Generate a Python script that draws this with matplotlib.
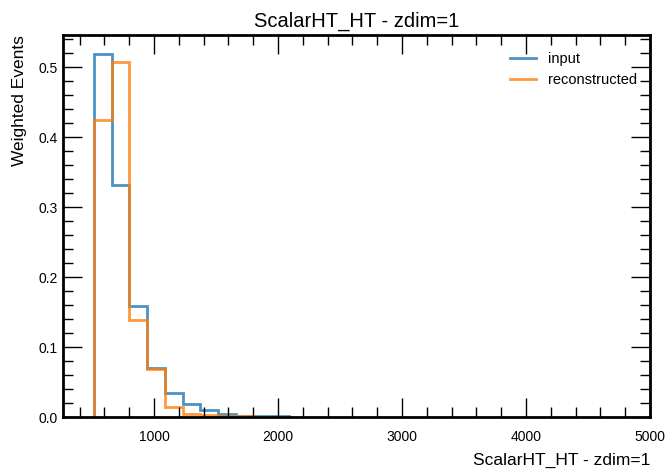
import matplotlib
matplotlib.use("Agg")
import matplotlib.pyplot as plt
import numpy as np
from matplotlib.ticker import MultipleLocator

# bin edges and per-bin weighted events
bin_edges = [516, 659, 802, 945, 1088, 1231, 1374, 1517, 1660, 1803, 1946, 2089]
input_vals = [0.519, 0.331, 0.158, 0.070, 0.035, 0.019, 0.010, 0.005, 0.002, 0.002, 0.002]
recon_vals = [0.424, 0.507, 0.139, 0.068, 0.015, 0.005, 0.003, 0.002, 0.001, 0.0, 0.0]
labels = ["input", "reconstructed"]
title = "ScalarHT_HT - zdim=1"

plt.rcParams["font.family"] = ["Liberation Sans", "DejaVu Sans"]
plt.rcParams["axes.linewidth"] = 2

fig = plt.figure(figsize=(6.68, 4.72), dpi=100)
ax = fig.add_axes([0.0943, 0.1165, 0.8787, 0.8095])

edges = np.array(bin_edges, dtype=float)
for vals, color, lab in [(input_vals, "#1f77b4", labels[0]),
                         (recon_vals, "#ff7f0e", labels[1])]:
  v = np.array(vals)
  ax.stairs(v, edges, color=color, lw=2, alpha=0.8, label=lab,
            baseline=0)

ax.set_xlim(266, 5000)
ax.set_ylim(0, 0.546)
ax.xaxis.set_major_locator(MultipleLocator(1000))
ax.xaxis.set_minor_locator(MultipleLocator(200))
ax.yaxis.set_major_locator(MultipleLocator(0.1))
ax.yaxis.set_minor_locator(MultipleLocator(0.02))
ax.tick_params(which="both", direction="in", top=True, right=True,
               labelsize=10)
ax.tick_params(which="major", length=14, width=1)
ax.tick_params(which="minor", length=7, width=1)
ax.tick_params(axis="x", which="major", pad=9.5)
ax.tick_params(axis="y", which="major", pad=4)

ax.set_title(title, fontsize=14.5, pad=6)
ax.set_xlabel(title, fontsize=12.5, loc="right", labelpad=6)
ax.set_ylabel("Weighted Events", fontsize=12.5, loc="top", labelpad=8)
ax.legend(frameon=False, fontsize=10.5, loc="upper right",
          bbox_to_anchor=(1.0, 0.99), handlelength=1.8)

fig.savefig("out.png", dpi=100)
